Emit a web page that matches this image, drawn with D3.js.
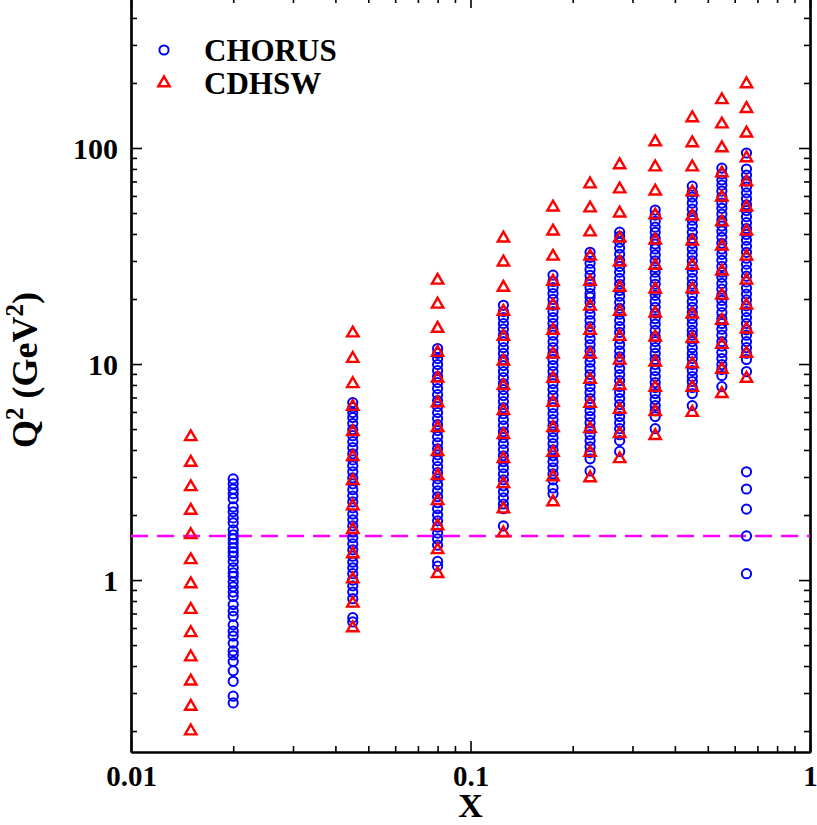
<!DOCTYPE html>
<html>
<head>
<meta charset="utf-8">
<script src="https://cdn.jsdelivr.net/npm/d3@7"></script>
<style>
  body { margin: 0; background: #fff; }
  svg { display: block; }
  text { font-family: "Liberation Serif", "Times New Roman", serif; font-weight: bold; fill: #000; }
</style>
</head>
<body>
<script>
// Bjorken x bins of the two data sets
var chorusX = [0.02, 0.045, 0.08, 0.125, 0.175, 0.225, 0.275, 0.35, 0.45, 0.55, 0.65];
var cdhswX  = [0.015, 0.045, 0.08, 0.125, 0.175, 0.225, 0.275, 0.35, 0.45, 0.55, 0.65];

// Q^2 values (GeV^2), one list per x bin
var chorusQ2 = [
  [2.94, 2.79, 2.64, 2.51, 2.38, 2.18, 2.07, 1.94, 1.84, 1.71, 1.62, 1.55, 1.48, 1.41, 1.35, 1.29, 1.22, 1.14, 1.08, 1.04, 0.98, 0.93, 0.88, 0.84, 0.77, 0.72, 0.68, 0.62, 0.58, 0.55, 0.51, 0.47, 0.45, 0.42, 0.38, 0.34, 0.29, 0.27],
  [6.63, 6.28, 5.96, 5.65, 5.30, 4.97, 4.66, 4.37, 4.10, 3.84, 3.60, 3.38, 3.17, 2.97, 2.79, 2.62, 2.45, 2.30, 2.16, 2.02, 1.90, 1.78, 1.67, 1.57, 1.47, 1.38, 1.29, 1.21, 1.14, 1.07, 1.0, 0.94, 0.88, 0.82, 0.67, 0.64],
  [11.8, 11.2, 10.6, 9.95, 9.33, 8.75, 8.21, 7.70, 7.22, 6.77, 6.35, 5.96, 5.59, 5.24, 4.92, 4.61, 4.32, 4.05, 3.80, 3.57, 3.35, 3.14, 2.94, 2.76, 2.59, 2.43, 2.28, 2.14, 2.00, 1.88, 1.76, 1.65, 1.55, 1.45, 1.22, 1.16],
  [18.7, 17.5, 16.4, 15.4, 14.5, 13.6, 12.7, 11.9, 11.2, 10.5, 9.84, 9.23, 8.66, 8.12, 7.62, 7.14, 6.70, 6.28, 5.89, 5.53, 5.18, 4.86, 4.56, 4.28, 4.01, 3.76, 3.53, 3.31, 3.10, 2.91, 2.73, 2.56, 2.40, 2.25, 2.14, 1.78],
  [25.8, 24.1, 22.6, 21.2, 19.9, 18.7, 17.5, 16.4, 15.4, 14.5, 13.6, 12.7, 11.9, 11.2, 10.5, 9.84, 9.23, 8.66, 8.12, 7.62, 7.14, 6.70, 6.28, 5.89, 5.53, 5.18, 4.86, 4.56, 4.28, 4.01, 3.76, 3.53, 3.31, 3.10, 2.91, 2.67, 2.51],
  [32.9, 31.2, 29.3, 27.4, 25.7, 24.1, 22.6, 21.2, 20.4, 19.3, 18.1, 17.0, 15.9, 14.9, 14.0, 13.1, 12.3, 11.5, 10.8, 10.2, 9.53, 8.94, 8.38, 7.86, 7.38, 6.92, 6.49, 6.08, 5.71, 5.35, 5.02, 4.71, 4.42, 4.14, 3.89, 3.64, 3.20],
  [40.8, 39.0, 36.6, 34.4, 32.2, 30.2, 28.3, 26.6, 24.9, 23.4, 21.9, 20.6, 19.3, 18.1, 17.0, 15.9, 14.9, 14.0, 13.1, 12.3, 11.5, 10.8, 10.2, 9.53, 8.94, 8.38, 7.86, 7.38, 6.92, 6.49, 6.08, 5.71, 5.35, 5.02, 4.71, 4.42, 3.94],
  [51.6, 48.9, 45.8, 43.0, 40.7, 38.2, 35.9, 34.1, 32.0, 30.0, 28.0, 26.6, 24.9, 23.4, 21.9, 20.8, 19.5, 18.3, 17.2, 16.2, 15.3, 14.3, 13.4, 12.7, 11.9, 11.2, 10.5, 9.94, 9.33, 8.75, 8.21, 7.78, 7.30, 6.85, 6.42, 6.08, 5.71, 5.02],
  [66.6, 62.5, 59.3, 55.6, 52.1, 48.9, 46.3, 43.5, 40.7, 38.2, 36.2, 34.1, 32.0, 30.0, 28.3, 26.6, 24.9, 23.4, 22.2, 20.8, 19.5, 18.3, 17.3, 16.2, 15.3, 14.3, 13.6, 12.7, 11.9, 11.2, 10.6, 9.94, 9.33, 8.75, 8.30, 7.78, 7.30, 6.42],
  [80.7, 75.8, 71.1, 67.3, 63.2, 59.3, 55.6, 52.6, 49.4, 46.3, 43.5, 41.2, 38.6, 36.2, 34.1, 32.2, 30.2, 28.3, 26.6, 25.2, 23.6, 22.2, 20.8, 19.7, 18.5, 17.3, 16.2, 15.4, 14.5, 13.6, 12.7, 12.1, 11.3, 10.6, 9.94, 9.43, 8.85, 7.86],
  [94.8, 79.9, 75.0, 70.4, 66.0, 62.0, 58.2, 54.6, 51.3, 48.1, 45.1, 42.4, 39.8, 37.4, 35.1, 32.9, 30.9, 29.0, 27.2, 25.5, 24.0, 22.5, 21.1, 19.8, 18.6, 17.5, 16.4, 15.4, 14.4, 13.6, 12.7, 11.9, 11.2, 10.5, 9.23, 3.17, 2.64, 2.13, 1.60, 1.07]
];

var cdhswQ2 = [
  [4.6, 3.5, 2.7, 2.1, 1.62, 1.24, 0.96, 0.73, 0.57, 0.44, 0.34, 0.26, 0.2],
  [13.9, 10.6, 8.1, 6.35, 4.86, 3.72, 2.88, 2.2, 1.71, 1.32, 1.01, 0.78, 0.6],
  [24.4, 18.9, 14.6, 11.3, 8.6, 6.6, 5.07, 3.93, 3.04, 2.33, 1.78, 1.38, 1.07],
  [38.2, 29.6, 22.6, 17.5, 13.4, 10.3, 7.94, 6.08, 4.71, 3.64, 2.79, 2.13, 1.65],
  [53.2, 41.2, 31.5, 24.1, 18.7, 14.3, 11.1, 8.57, 6.63, 5.07, 3.89, 3.0, 2.3],
  [68.1, 52.7, 40.8, 31.5, 24.1, 18.5, 14.3, 11.1, 8.47, 6.56, 5.02, 3.89, 2.97],
  [83.4, 64.5, 49.9, 38.2, 29.6, 22.6, 17.5, 13.4, 10.4, 7.94, 6.15, 4.76, 3.64],
  [106.6, 81.6, 63.1, 48.9, 37.4, 28.6, 22.2, 17.2, 13.3, 10.2, 7.78, 6.02, 4.66],
  [137.8, 105.5, 81.6, 62.5, 48.3, 37.0, 28.6, 22.2, 17.0, 13.1, 10.0, 7.78, 5.96],
  [167, 129, 100, 76.5, 59.2, 45.4, 35.1, 26.9, 20.8, 15.9, 12.3, 9.43, 7.29],
  [198, 152, 117, 89.9, 69.5, 53.2, 41.2, 31.5, 24.4, 18.7, 14.5, 11.2, 8.57]
];

// Q^2 cut drawn as the dashed line
var q2Cut = 1.6;

// axis ticks
var xMajor = [0.01, 0.1, 1];
var xMinor = [0.02, 0.03, 0.04, 0.05, 0.06, 0.07, 0.08, 0.09, 0.2, 0.3, 0.4, 0.5, 0.6, 0.7, 0.8, 0.9];
var yMajor = [1, 10, 100];
var yMinor = [0.2, 0.3, 0.4, 0.5, 0.6, 0.7, 0.8, 0.9, 2, 3, 4, 5, 6, 7, 8, 9, 20, 30, 40, 50, 60, 70, 80, 90, 200, 300, 400];

var legendItems = ["CHORUS", "CDHSW"];

// Canvas and plot frame
var canvas = {w: 817, h: 825},
    frame = {left: 131, right: 810, top: -3, bottom: 752};

var svg = d3.select("body").append("svg")
    .attr("width", canvas.w)
    .attr("height", canvas.h);

var x = d3.scaleLog().domain([0.01, 1]).range([frame.left, frame.right]),
    y = d3.scaleLog().domain([0.16, 500]).range([frame.bottom, frame.top]);

// flatten the per-bin lists into points
var chorus = [], cdhsw = [];
chorusX.forEach(function(xv, i) {
    chorusQ2[i].forEach(function(q) { chorus.push({x: xv, q2: q}); });
});
cdhswX.forEach(function(xv, i) {
    cdhswQ2[i].forEach(function(q) { cdhsw.push({x: xv, q2: q}); });
});

// Axes: all ticks point inward
function drawAxis(axis, tx, ty, size, values, labels) {
    var g = svg.append("g")
        .attr("transform", "translate(" + tx + "," + ty + ")")
        .call(axis.tickValues(values)
                  .tickSize(size)
                  .tickSizeOuter(0)
                  .tickFormat(labels ? function(d) { return d; } : ""));
    g.selectAll("line").attr("stroke", "#000").attr("stroke-width", 1.6);
    g.select(".domain").attr("stroke", "#000").attr("stroke-width", 2.2);
    return g;
}

var bottomAx = drawAxis(d3.axisBottom(x), 0, frame.bottom, -11, xMajor, true);
drawAxis(d3.axisBottom(x), 0, frame.bottom, -6, xMinor, false);
drawAxis(d3.axisTop(x), 0, frame.top, -11, xMajor, false);
drawAxis(d3.axisTop(x), 0, frame.top, -6, xMinor, false);
var leftAx = drawAxis(d3.axisLeft(y), frame.left, 0, -11, yMajor, true);
drawAxis(d3.axisLeft(y), frame.left, 0, -6, yMinor, false);
drawAxis(d3.axisRight(y), frame.right, 0, -11, yMajor, false);
drawAxis(d3.axisRight(y), frame.right, 0, -6, yMinor, false);

// tick label styling
bottomAx.selectAll("text")
    .attr("y", 34).attr("dy", 0)
    .style("font-size", "29px");
leftAx.selectAll("text")
    .attr("x", -13).attr("dy", "0.34em")
    .style("font-size", "30px");

// Dashed Q^2 cut
svg.append("line")
    .attr("x1", frame.left).attr("x2", frame.right)
    .attr("y1", y(q2Cut)).attr("y2", y(q2Cut))
    .attr("stroke", "#ff00ff")
    .attr("stroke-width", 2.5)
    .attr("stroke-dasharray", "17,9");

// CHORUS points: open blue circles
svg.append("g").selectAll("circle")
    .data(chorus)
    .enter().append("circle")
    .attr("cx", function(d) { return x(d.x); })
    .attr("cy", function(d) { return y(d.q2); })
    .attr("r", 4.6)
    .attr("fill", "none")
    .attr("stroke", "#0000ff")
    .attr("stroke-width", 2);

// CDHSW points: open red triangles
var tri = d3.symbol().type(d3.symbolTriangle).size(56);
svg.append("g").selectAll("path")
    .data(cdhsw)
    .enter().append("path")
    .attr("d", tri)
    .attr("transform", function(d) { return "translate(" + x(d.x) + "," + y(d.q2) + ")"; })
    .attr("fill", "none")
    .attr("stroke", "#ff0000")
    .attr("stroke-width", 2.4);

// Legend
var legend = svg.append("g").selectAll("g")
    .data(legendItems)
    .enter().append("g")
    .attr("transform", function(d, i) { return "translate(164," + (50 + i * 33) + ")"; });

legend.filter(function(d, i) { return i === 0; })
    .append("circle")
    .attr("r", 4.6)
    .attr("fill", "none")
    .attr("stroke", "#0000ff")
    .attr("stroke-width", 2);
legend.filter(function(d, i) { return i === 1; })
    .append("path")
    .attr("d", tri)
    .attr("fill", "none")
    .attr("stroke", "#ff0000")
    .attr("stroke-width", 2.4);
legend.append("text")
    .attr("x", 40)
    .attr("y", 11)
    .style("font-size", "31px")
    .text(function(d) { return d; });

// Axis titles
svg.append("text")
    .attr("x", (frame.left + frame.right) / 2)
    .attr("y", 817)
    .attr("text-anchor", "middle")
    .style("font-size", "34px")
    .text("X");

var yTitle = svg.append("text")
    .attr("transform", "translate(37,370) rotate(-90)")
    .attr("text-anchor", "middle")
    .style("font-size", "36px");
yTitle.append("tspan").text("Q");
yTitle.append("tspan").attr("dy", -14).style("font-size", "25px").text("2");
yTitle.append("tspan").attr("dy", 14).text(" (GeV");
yTitle.append("tspan").attr("dy", -14).style("font-size", "25px").text("2");
yTitle.append("tspan").attr("dy", 14).text(")");
</script>
</body>
</html>
